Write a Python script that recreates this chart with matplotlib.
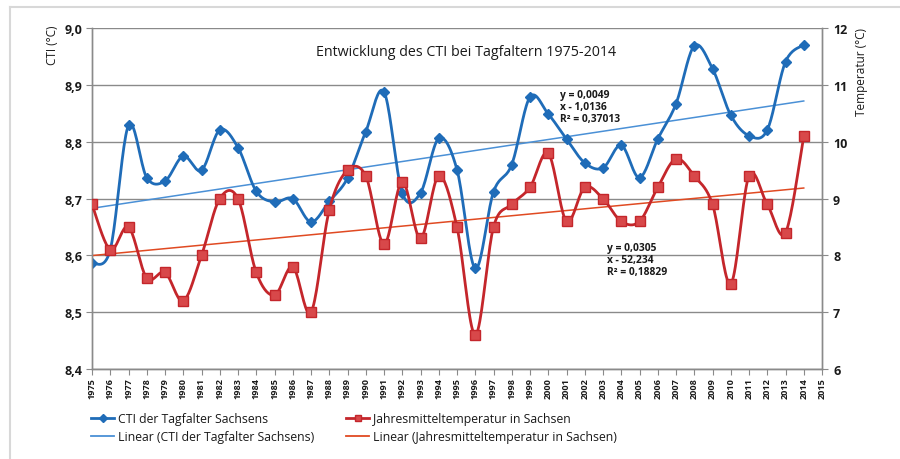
import numpy as np
import matplotlib
matplotlib.use("Agg")
import matplotlib.pyplot as plt
from matplotlib.lines import Line2D

# ---------------- data ----------------
years = list(range(1975, 2015))
tick_years = [str(y) for y in range(1975, 2016)]
cti = [8.586, 8.61, 8.829, 8.737, 8.731, 8.775, 8.75, 8.821, 8.79, 8.713,
       8.694, 8.70, 8.659, 8.695, 8.736, 8.818, 8.888, 8.71, 8.71, 8.806,
       8.751, 8.577, 8.712, 8.76, 8.879, 8.849, 8.805, 8.763, 8.754, 8.794,
       8.737, 8.805, 8.867, 8.969, 8.929, 8.847, 8.811, 8.821, 8.941, 8.971]
temp = [8.9, 8.1, 8.5, 7.6, 7.7, 7.2, 8.0, 9.0, 9.0, 7.7,
        7.3, 7.8, 7.0, 8.8, 9.5, 9.4, 8.2, 9.3, 8.3, 9.4,
        8.5, 6.6, 8.5, 8.9, 9.2, 9.8, 8.6, 9.2, 9.0, 8.6,
        8.6, 9.2, 9.7, 9.4, 8.9, 7.5, 9.4, 8.9, 8.4, 10.1]
cti_ticks = [8.4, 8.5, 8.6, 8.7, 8.8, 8.9, 9.0]
temp_ticks = [6, 7, 8, 9, 10, 11, 12]
title = "Entwicklung des CTI bei Tagfaltern 1975-2014"
eq_cti = "y = 0,0049\nx - 1,0136\nR² = 0,37013"
eq_temp = "y = 0,0305\nx - 52,234\nR² = 0,18829"
lab_cti = "CTI der Tagfalter Sachsens"
lab_temp = "Jahresmitteltemperatur in Sachsen"

plt.rcParams['font.family'] = ['Open Sans', 'DejaVu Sans']
TXT = '#1a1a1a'
BLUE = '#1f6cb8'
BLUE_T = '#4a90d6'
RED = '#c4262b'
RED_FILL = '#d8484a'
RED_T = '#e04a22'
GRID = '#8a8a8a'


def smooth(xs, ys, n=20):
    xs = np.asarray(xs, float)
    ys = np.asarray(ys, float)
    P = np.column_stack([xs, ys])
    Pe = np.vstack([P[0], P, P[-1]])
    out = []
    t = np.linspace(0, 1, n, endpoint=False)[:, None]
    for i in range(len(P) - 1):
        p0, p3 = Pe[i + 1], Pe[i + 2]
        c1 = p0 + (Pe[i + 2] - Pe[i]) / 6.0
        c2 = p3 - (Pe[i + 3] - Pe[i + 1]) / 6.0
        seg = ((1 - t) ** 3) * p0 + 3 * ((1 - t) ** 2) * t * c1 + 3 * (1 - t) * t ** 2 * c2 + t ** 3 * p3
        out.append(seg)
    out.append(P[-1][None, :])
    out = np.vstack(out)
    return out[:, 0], out[:, 1]


fig = plt.figure(figsize=(9, 4.6), dpi=100)
ax = fig.add_axes([92 / 900, 1 - 370 / 460, (822 - 92) / 900, (370 - 29.3) / 460])
ax2 = ax.twinx()

x = np.arange(len(years))

# trend lines
kc = np.polyfit(x, cti, 1)
kt = np.polyfit(x, temp, 1)
ax.plot(x, np.polyval(kc, x), color=BLUE_T, lw=1.1, zorder=2)

# CTI series
sx, sy = smooth(x, cti)
ax.plot(sx, sy, color=BLUE, lw=2.0, zorder=3, solid_capstyle='round')
ax.plot(x, cti, ls='none', marker='D', ms=5, color=BLUE, mec=BLUE, zorder=4)

# temperature on secondary axis
ax2.plot(x, np.polyval(kt, x), color=RED_T, lw=1.1, zorder=2)
tx, ty = smooth(x, temp)
ax2.plot(tx, ty, color=RED, lw=2.0, zorder=3, solid_capstyle='round')
ax2.plot(x, temp, ls='none', marker='s', ms=7, color=RED_FILL, mec=RED, mew=1.0, zorder=4)

ax.set_xlim(0, len(tick_years) - 1)
ax.set_ylim(cti_ticks[0], cti_ticks[-1])
ax2.set_ylim(temp_ticks[0], temp_ticks[-1])
ax.set_yticks(cti_ticks)
ax.set_yticklabels([f"{v:.1f}".replace('.', ',') for v in cti_ticks])
ax2.set_yticks(temp_ticks)
ax2.set_yticklabels([str(v) for v in temp_ticks])
ax.set_xticks(np.arange(len(tick_years)))
ax.set_xticklabels(tick_years, rotation=90, fontsize=6.6, fontweight='bold', color=TXT)

ax.grid(axis='y', color=GRID, lw=1.0)
ax.set_axisbelow(True)
for a in (ax, ax2):
    for s in a.spines.values():
        s.set_color(GRID)
        s.set_linewidth(1.0)
    a.spines['top'].set_visible(False)
ax.tick_params(axis='y', colors=GRID, labelcolor=TXT, labelsize=9, length=4, pad=3)
ax.tick_params(axis='x', colors=GRID, labelcolor=TXT, length=4, pad=2)
ax2.tick_params(axis='y', colors=GRID, labelcolor=TXT, labelsize=9, length=4, pad=4)
for lbl in ax.get_yticklabels() + ax2.get_yticklabels():
    lbl.set_fontweight('bold')

fig.text(52 / 900, 1 - 45 / 460, "CTI (°C)", rotation=90, ha='center', va='center', fontsize=8.5, color=TXT)
fig.text(862 / 900, 1 - 72 / 460, "Temperatur (°C)", rotation=90, ha='center', va='center', fontsize=8.5, color=TXT)
fig.text(466 / 900, 1 - 53 / 460, title, ha='center', va='center', fontsize=10.3, color=TXT)
fig.text(560 / 900, 1 - 90 / 460, eq_cti, ha='left', va='top', fontsize=7.4, fontweight='bold', color=TXT, linespacing=1.15)
fig.text(607 / 900, 1 - 243 / 460, eq_temp, ha='left', va='top', fontsize=7.4, fontweight='bold', color=TXT, linespacing=1.15)

# legends
h1 = [Line2D([], [], color=BLUE, lw=2, marker='D', ms=4, mec=BLUE),
      Line2D([], [], color=BLUE_T, lw=1.3)]
l1 = [lab_cti, "Linear (" + lab_cti + ")"]
h2 = [Line2D([], [], color=RED, lw=2, marker='s', ms=5, mfc=RED_FILL, mec=RED),
      Line2D([], [], color=RED_T, lw=1.3)]
l2 = [lab_temp, "Linear (" + lab_temp + ")"]
kw = dict(frameon=False, fontsize=8.8, handlelength=1.9, handletextpad=0.3,
          labelspacing=0.45, borderpad=0, borderaxespad=0, labelcolor=TXT,
          bbox_transform=fig.transFigure, loc='upper left')
leg1 = fig.legend(h1, l1, bbox_to_anchor=(91 / 900, 1 - 413 / 460), **kw)
leg2 = fig.legend(h2, l2, bbox_to_anchor=(346 / 900, 1 - 413 / 460), **kw)

# figure frame
fig.add_artist(Line2D([10 / 900, 10 / 900], [0, 1 - 8 / 460], transform=fig.transFigure, color='#d8d8d8', lw=1.5))
fig.add_artist(Line2D([10 / 900, 1], [1 - 8 / 460, 1 - 8 / 460], transform=fig.transFigure, color='#d8d8d8', lw=1.5))

fig.savefig("out.png", dpi=100)
